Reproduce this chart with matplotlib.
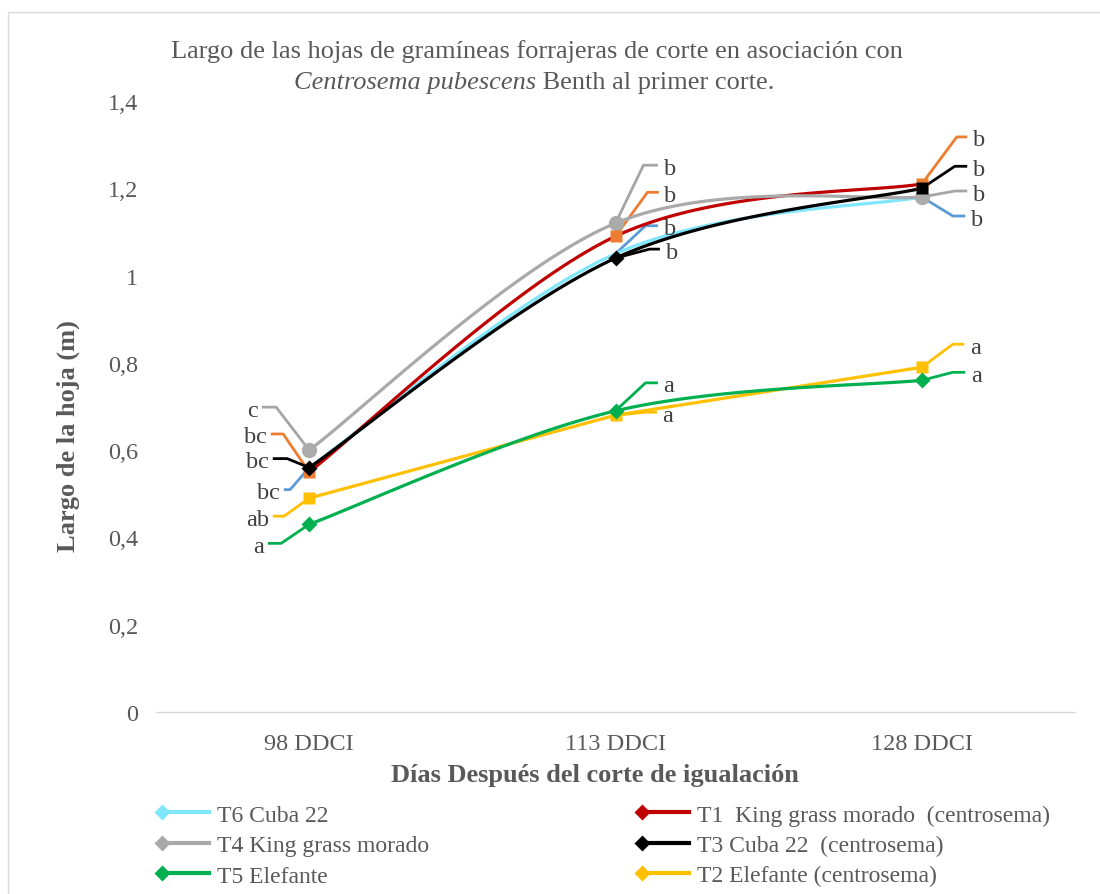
import matplotlib.pyplot as plt
import numpy as np
from matplotlib.lines import Line2D
from matplotlib.patches import Rectangle
from matplotlib.transforms import IdentityTransform
from matplotlib.legend_handler import HandlerLine2D

plt.rcParams['font.family'] = ['Liberation Serif', 'DejaVu Serif']

# datos
categorias = ['98 DDCI', '113 DDCI', '128 DDCI']
t6 = [0.56, 1.05, 1.18]
t1 = [0.55, 1.09, 1.21]
t4 = [0.60, 1.12, 1.18]
t3 = [0.56, 1.04, 1.20]
t5 = [0.43, 0.69, 0.76]
t2 = [0.49, 0.68, 0.79]

letras_t6 = ['bc', 'b', 'b']
letras_t1 = ['bc', 'b', 'b']
letras_t4 = ['c', 'b', 'b']
letras_t3 = ['bc', 'b', 'b']
letras_t5 = ['a', 'a', 'a']
letras_t2 = ['ab', 'a', 'a']

nombres = ['T6 Cuba 22', 'T4 King grass morado', 'T5 Elefante',
           'T1  King grass morado  (centrosema)', 'T3 Cuba 22  (centrosema)',
           'T2 Elefante (centrosema)']

GRIS_TXT = '#595959'
C_T6, C_T1, C_T4, C_T3, C_T5, C_T2 = '#7FE6FB', '#C00000', '#A9A9A9', '#000000', '#00B050', '#FFC000'
FS = 17.5


def suavizar(y, n=60):
    # curva suavizada tipo Excel (Bezier con tangentes Catmull-Rom)
    x = np.arange(len(y), dtype=float)
    y = np.asarray(y, dtype=float)
    P = np.column_stack([x, y])
    out = []
    for i in range(len(P) - 1):
        p0 = P[max(i - 1, 0)]
        p1 = P[i]
        p2 = P[i + 1]
        p3 = P[min(i + 2, len(P) - 1)]
        c1 = p1 + (p2 - p0) / 6
        c2 = p2 - (p3 - p1) / 6
        t = np.linspace(0, 1, n)[:, None]
        seg = ((1 - t) ** 3) * p1 + 3 * ((1 - t) ** 2) * t * c1 + 3 * (1 - t) * t ** 2 * c2 + t ** 3 * p2
        out.append(seg if i == 0 else seg[1:])
    out = np.vstack(out)
    return out[:, 0], out[:, 1]


class MarcadorIzq(HandlerLine2D):
    # deja el marcador solo en el extremo izquierdo de la muestra
    def create_artists(self, legend, orig_handle, xdescent, ydescent, width, height, fontsize, trans):
        arts = super().create_artists(legend, orig_handle, xdescent, ydescent, width, height, fontsize, trans)
        for a in arts:
            a.set_markevery([0])
        return arts


fig = plt.figure(figsize=(11, 8.95), dpi=100)
ax = fig.add_axes([156 / 1100, 1 - 713 / 895, 919 / 1100, 611 / 895])
xpos = np.arange(len(categorias))

lw = 2.3
# lineas
for vals, col, smooth in [(t6, C_T6, True), (t1, C_T1, True), (t4, C_T4, True),
                          (t3, C_T3, True), (t2, C_T2, False), (t5, C_T5, True)]:
    if smooth:
        xs, ys = suavizar(vals)
    else:
        xs, ys = xpos, vals
    ax.plot(xs, ys, color=col, lw=lw, solid_capstyle='round', zorder=2)

# marcadores
ax.plot(xpos, t4, 'o', color='#ABABAB', ms=11, mec='none', zorder=3)
ax.plot(xpos, t1, 's', color='#ED7D31', ms=8, mec='none', zorder=3)
ax.plot(xpos[:2], t3[:2], 'D', color='black', ms=8, mec='none', zorder=4)
ax.plot(xpos[2:], t3[2:], 's', color='black', ms=8.5, mec='none', zorder=4)
ax.plot(xpos, t2, 's', color=C_T2, ms=8, mec='none', zorder=4)
ax.plot(xpos, t5, 'D', color=C_T5, ms=8, mec='none', zorder=4)

ax.set_xlim(-0.5, 2.5)
ax.set_ylim(0, 1.4)
ax.set_xticks(xpos)
ax.set_xticklabels(categorias)
yt = np.arange(0, 1.41, 0.2)
ax.set_yticks(yt)
ax.set_yticklabels(['0' if v == 0 else ('%g' % round(v, 1)).replace('.', ',') for v in yt])
ax.tick_params(length=0, labelsize=FS, colors=GRIS_TXT)
ax.tick_params(axis='x', pad=15)
ax.tick_params(axis='y', pad=13)
for s in ['top', 'right', 'left']:
    ax.spines[s].set_visible(False)
ax.spines['bottom'].set_color('#D9D9D9')
ax.spines['bottom'].set_linewidth(1)
ax.set_facecolor('none')

# etiquetas de letras con lineas guia (desplazamientos en pixeles)
guias = [
    # (serie, letras, indice, color guia, codo(dx,dy), fin dx)
    (t4, letras_t4, 0, '#A5A5A5', (-33, -43), -46),
    (t1, letras_t1, 0, '#ED7D31', (-26, -38), -37),
    (t3, letras_t3, 0, '#000000', (-22, -9), -35),
    (t6, letras_t6, 0, '#5B9BD5', (-19, 22), -24),
    (t2, letras_t2, 0, '#FFC000', (-25, 18), -35),
    (t5, letras_t5, 0, '#00B050', (-28, 19), -40),
    (t4, letras_t4, 1, '#A5A5A5', (28, -58), 41),
    (t1, letras_t1, 1, '#ED7D31', (32, -44), 42),
    (t6, letras_t6, 1, '#5B9BD5', (30, -28), 41),
    (t3, letras_t3, 1, '#000000', (34, -9), 43),
    (t5, letras_t5, 1, '#00B050', (30, -28), 41),
    (t2, letras_t2, 1, '#FFC000', (30, -3), 40),
    (t1, letras_t1, 2, '#ED7D31', (35, -47), 44),
    (t3, letras_t3, 2, '#000000', (33, -22), 44),
    (t4, letras_t4, 2, '#A5A5A5', (33, -6), 44),
    (t6, letras_t6, 2, '#5B9BD5', (31, 19), 42),
    (t2, letras_t2, 2, '#FFC000', (31, -23), 41),
    (t5, letras_t5, 2, '#00B050', (31, -8), 42),
]
for vals, letras, i, col, (ex, ey), fx in guias:
    px, py = ax.transData.transform((xpos[i], vals[i]))
    xs = [px, px + ex, px + fx]
    ys = [py, py - ey, py - ey]
    ax.add_line(Line2D(xs, ys, transform=IdentityTransform(), color=col, lw=2, zorder=1, clip_on=False))
    if fx < 0:
        tx, ha = px + fx - 5, 'right'
    else:
        tx, ha = px + fx + 7, 'left'
    fig.text(tx / 1100, (py - ey - 3) / 895, letras[i], ha=ha, va='center',
             fontsize=FS, color='#404040')

# titulo: primera linea normal, segunda con el nombre cientifico en cursiva
fig.text(537 / 1100, 1 - 52 / 895,
         'Largo de las hojas de gramíneas forrajeras de corte en asociación con',
         ha='center', va='center', fontsize=19, color=GRIS_TXT)
renderer = fig.canvas.get_renderer()
t_it = fig.text(0, 1 - 83 / 895, 'Centrosema pubescens', style='italic',
                ha='left', va='center', fontsize=19, color=GRIS_TXT)
t_rm = fig.text(0, 1 - 83 / 895, ' Benth al primer corte.',
                ha='left', va='center', fontsize=19, color=GRIS_TXT)
w_it = t_it.get_window_extent(renderer).width
w_rm = t_rm.get_window_extent(renderer).width
x0 = 534 - (w_it + w_rm) / 2
t_it.set_x(x0 / 1100)
t_rm.set_x((x0 + w_it) / 1100)

fig.text(68 / 1100, 1 - 436 / 895, 'Largo de la hoja (m)', rotation=90, ha='center', va='center',
         fontsize=19, fontweight='bold', color=GRIS_TXT)
fig.text(595 / 1100, 1 - 776 / 895, 'Días Después del corte de igualación', ha='center', va='center',
         fontsize=19, fontweight='bold', color=GRIS_TXT)

# leyenda en dos columnas
colores_ley = [C_T6, C_T4, C_T5, C_T1, C_T3, C_T2]
handles = [Line2D([], [], color=c, lw=3, marker='D', ms=8, mec='none') for c in colores_ley]
opts = dict(loc='upper left', frameon=False, fontsize=17, labelcolor=GRIS_TXT, handlelength=2.57,
            handletextpad=0.05, labelspacing=0.38, borderaxespad=0, borderpad=0, numpoints=2,
            handler_map={Line2D: MarcadorIzq()})
leg1 = fig.legend(handles[:3], nombres[:3], bbox_to_anchor=(155 / 1100, 1 - 805 / 895), **opts)
leg2 = fig.legend(handles[3:], nombres[3:], bbox_to_anchor=(635 / 1100, 1 - 805 / 895), **opts)

fig.patches.append(Rectangle((8 / 1100, -0.1), 1.2, 1.1 - 13 / 895, transform=fig.transFigure,
                             fill=False, edgecolor='#D9D9D9', lw=1))

fig.savefig('out.png', dpi=100)
